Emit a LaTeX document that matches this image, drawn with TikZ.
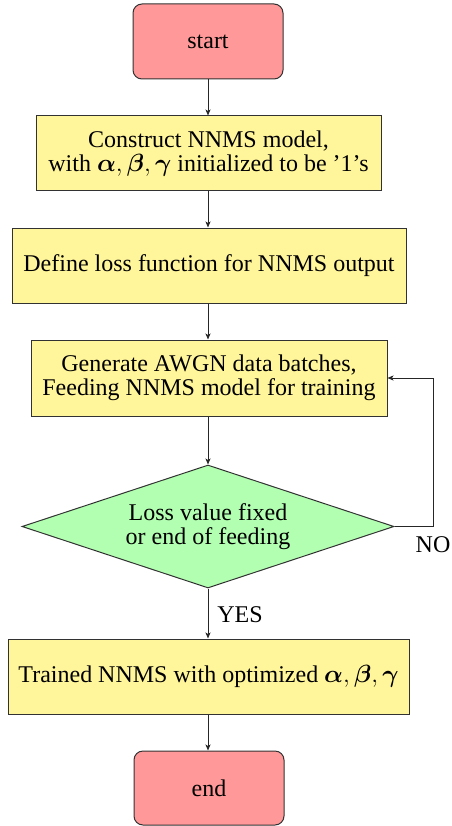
\documentclass[tikz,border=0pt]{standalone}
\usepackage{amsmath,bm}
\usepackage{fontspec}
\setmainfont{Liberation Serif}
\usetikzlibrary{shapes.geometric,arrows.meta}
\definecolor{termfill}{RGB}{255,153,153}
\definecolor{procfill}{RGB}{255,245,155}
\definecolor{decfill}{RGB}{178,255,178}
\definecolor{edge}{RGB}{50,50,50}
\tikzset{
  base/.style={draw=edge, line width=1pt, inner sep=0pt, align=center,
    font=\fontsize{24}{24.5}\selectfont},
  term/.style={base, rectangle, rounded corners=9pt, fill=termfill,
    minimum width=150pt, minimum height=75pt},
  proc/.style={base, rectangle, fill=procfill, minimum height=75pt},
  decide/.style={base, diamond, fill=decfill, shape aspect=3.02,
    minimum width=372pt, minimum height=123pt},
  flow/.style={draw=black!85, line width=0.9pt, -{Stealth[length=6pt,width=5pt,inset=1.5pt]}},
  lbl/.style={inner sep=0pt, font=\fontsize{24}{24.5}\selectfont}
}
\begin{document}
\begin{tikzpicture}[x=1pt,y=-1pt]
  \useasboundingbox (0,0) rectangle (451,826);
  \node[term] (start) at (208,41.5) {start};
  \node[proc, minimum width=345pt] (build) at (208.5,153.5)
    {Construct NNMS model,\\with $\bm{\alpha},\bm{\beta},\bm{\gamma}$ initialized to be '1's};
  \node[proc, minimum width=394pt] (loss) at (209,265.5)
    {Define loss function for NNMS output};
  \node[proc, minimum width=356pt, minimum height=76pt] (train) at (209,378)
    {Generate AWGN data batches,\\Feeding NNMS model for training};
  \node[decide] (check) at (208,526.5)
    {Loss value fixed\\or end of feeding};
  \node[proc, minimum width=401pt] (result) at (208.5,676.5)
    {Trained NNMS with optimized $\bm{\alpha},\bm{\beta},\bm{\gamma}$};
  \node[term, minimum height=74pt] (stop) at (209,788) {end};

  \coordinate (loopcorner) at (433,526.5);
  \draw[flow] (start.south -| 208,0) -- (build.north -| 208,0);
  \draw[flow] (build.south -| 208,0) -- (loss.north -| 208,0);
  \draw[flow] (loss.south -| 208,0) -- (train.north -| 208,0);
  \draw[flow] (train.south -| 208,0) -- (check.north);
  \draw[flow] (check.south) -- (result.north -| 208,0);
  \draw[flow] (result.south -| 208,0) -- (stop.north -| 208,0);
  \draw[flow] (check.east) -- (loopcorner) |- (train.east);

  \node[lbl] (no) at (433,545) {NO};
  \node[lbl] (yes) at (240,615) {YES};
\end{tikzpicture}
\end{document}
